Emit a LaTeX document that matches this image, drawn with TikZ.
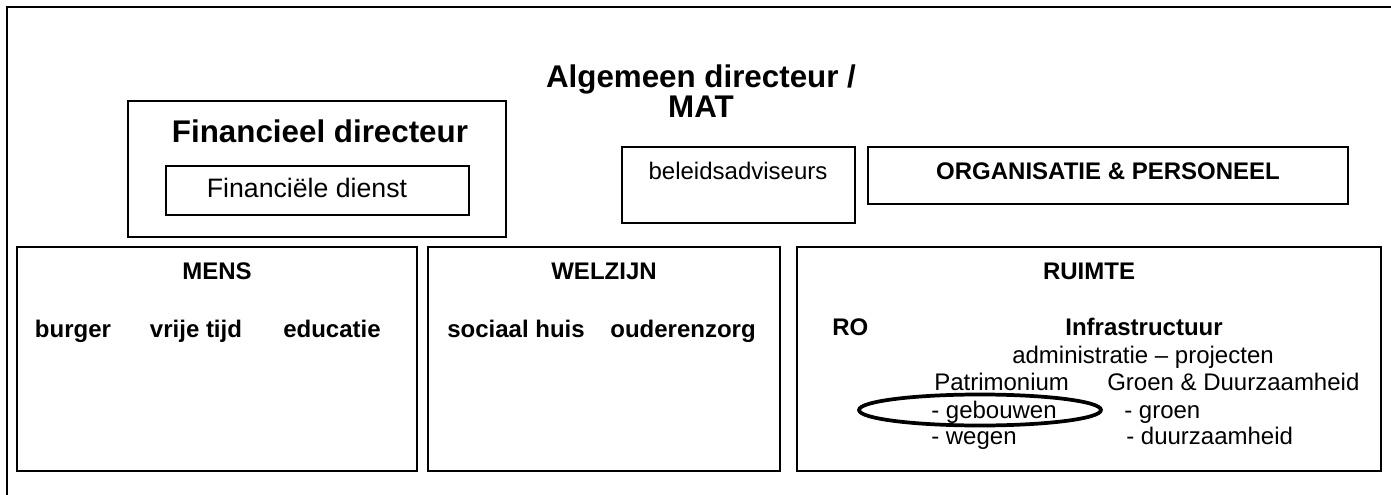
\documentclass[tikz,border=0pt]{standalone}
\usepackage{xcolor}
\usepackage{tikz}
\usepackage{fontspec}
\setmainfont{Liberation Sans}
\usetikzlibrary{shapes,arrows}

\begin{document}
\begin{tikzpicture}[x=0.75pt,y=0.75pt,yscale=-1,xscale=1,
        box/.style={line width=1.5pt},
        bighead/.style={inner sep=0.75pt,anchor=base,font=\fontsize{23.5}{28}\selectfont\bfseries},
        smallhead/.style={inner sep=0.75pt,anchor=base,font=\fontsize{18}{21}\selectfont\bfseries},
        plain/.style={inner sep=0.75pt,anchor=base,font=\fontsize{18}{21}\selectfont}]
        \useasboundingbox (0,0) rectangle (1391,495);
        % outer frame
        \draw [line width=1.6pt]  (7,495) -- (7,7) -- (1391,7) ;

        % top part
        \draw [box]  (128,101) -- (506,101) -- (506,237) -- (128,237) -- cycle ;
        \draw [box]  (166,166) -- (469,166) -- (469,215) -- (166,215) -- cycle ;
        \draw [box]  (622,147) -- (855,147) -- (855,223) -- (622,223) -- cycle ;
        \draw [box]  (868,147) -- (1348,147) -- (1348,204) -- (868,204) -- cycle ;

        \draw (701,88) node [bighead] (alg) {Algemeen directeur /};
        \draw (701,118) node [bighead] (mat) {MAT};
        \draw (320,143) node [bighead] (findir) {Financieel directeur};
        \draw (307,198) node [plain,font=\fontsize{20}{24}\selectfont] (findienst) {Financiële dienst};
        \draw (738,180) node [plain] (beleid) {beleidsadviseurs};
        \draw (1108,180) node [smallhead] (orgpers) {ORGANISATIE \& PERSONEEL};

        % bottom part
        \draw [box]  (17,247) -- (417,247) -- (417,471) -- (17,471) -- cycle ;
        \draw [box]  (428,247) -- (780,247) -- (780,471) -- (428,471) -- cycle ;
        \draw [box]  (797,247) -- (1381,247) -- (1381,471) -- (797,471) -- cycle ;

        \draw (217,279) node [smallhead] (mens) {MENS};
        \draw (73,337) node [smallhead] (burger) {burger};
        \draw (196,337) node [smallhead] (vrijetijd) {vrije tijd};
        \draw (332,337) node [smallhead] (educatie) {educatie};

        \draw (604,279) node [smallhead] (welzijn) {WELZIJN};
        \draw (516,337) node [smallhead] (sociaal) {sociaal huis};
        \draw (683,337) node [smallhead] (ouderen) {ouderenzorg};

        \draw (1089,279) node [smallhead] (ruimte) {RUIMTE};
        \draw (831,335) node [smallhead,anchor=base west] (ro) {RO};
        \draw (1144,335) node [smallhead] (infra) {Infrastructuur};
        \draw (1143,363) node [plain] (admin) {administratie – projecten};
        \draw (933,390) node [plain,anchor=base west] (patri) {Patrimonium};
        \draw (1106,390) node [plain,anchor=base west] (groenduur) {Groen \& Duurzaamheid};
        \draw (930,418) node [plain,anchor=base west] (gebouwen) {- gebouwen};
        \draw (1123,418) node [plain,anchor=base west] (groen) {- groen};
        \draw (930,444) node [plain,anchor=base west] (wegen) {- wegen};
        \draw (1125,444) node [plain,anchor=base west] (duurz) {- duurzaamheid};

        \draw [line width=2.8pt]  (980,410) ellipse (121 and 15.5) ;
    \end{tikzpicture}
\end{document}
